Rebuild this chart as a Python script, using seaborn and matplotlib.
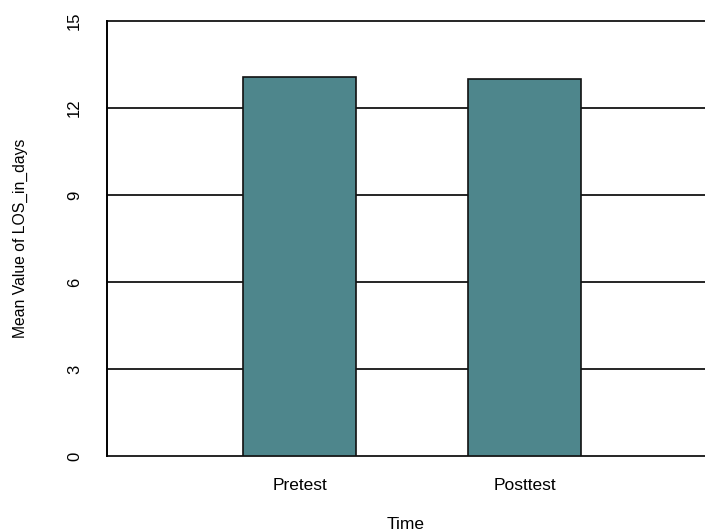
import matplotlib
matplotlib.use("Agg")
import matplotlib.pyplot as plt
import seaborn as sns
import pandas as pd

# Datos
periodos = ["Pretest", "Posttest"]
media_los = [13.06, 12.99]
ticks_y = [0, 3, 6, 9, 12, 15]

df = pd.DataFrame({"Time": periodos, "Mean": media_los})

sns.set_style("white")
plt.rcParams["font.family"] = ["Liberation Sans", "DejaVu Sans"]
plt.rcParams["text.color"] = "black"
plt.rcParams["axes.labelcolor"] = "black"
plt.rcParams["xtick.color"] = "black"
plt.rcParams["ytick.color"] = "black"

fig = plt.figure(figsize=(7.05, 5.31), dpi=100)
ax = fig.add_axes([107 / 705, 75 / 531, 598 / 705, 435 / 531])

sns.barplot(data=df, x="Time", y="Mean", ax=ax, color="#4e868c", saturation=1,
            width=0.5, edgecolor="#111111", linewidth=1.2, zorder=3)

ax.set_xlim(-0.856, 1.802)
ax.set_ylim(0, 15)
ax.set_yticks(ticks_y)
ax.set_yticklabels([str(t) for t in ticks_y], rotation=90, va="center", fontsize=12)
ax.grid(axis="y", color="black", linewidth=1.2, zorder=0)
ax.grid(axis="x", visible=False)
for linea in ax.get_ygridlines():
    linea.set_clip_on(False)

for lado in ["top", "right", "bottom"]:
    ax.spines[lado].set_visible(False)
ax.spines["left"].set_color("black")
ax.spines["left"].set_linewidth(1.4)

ax.tick_params(axis="y", length=9, width=1.2, pad=9)
ax.tick_params(axis="x", length=0, pad=16, labelsize=12.5)

ax.set_xlabel("Time", fontsize=12.5, labelpad=17)
ax.set_ylabel("Mean Value of LOS_in_days", fontsize=11.3, labelpad=28)

fig.savefig("out.png", dpi=100)
plt.close(fig)
